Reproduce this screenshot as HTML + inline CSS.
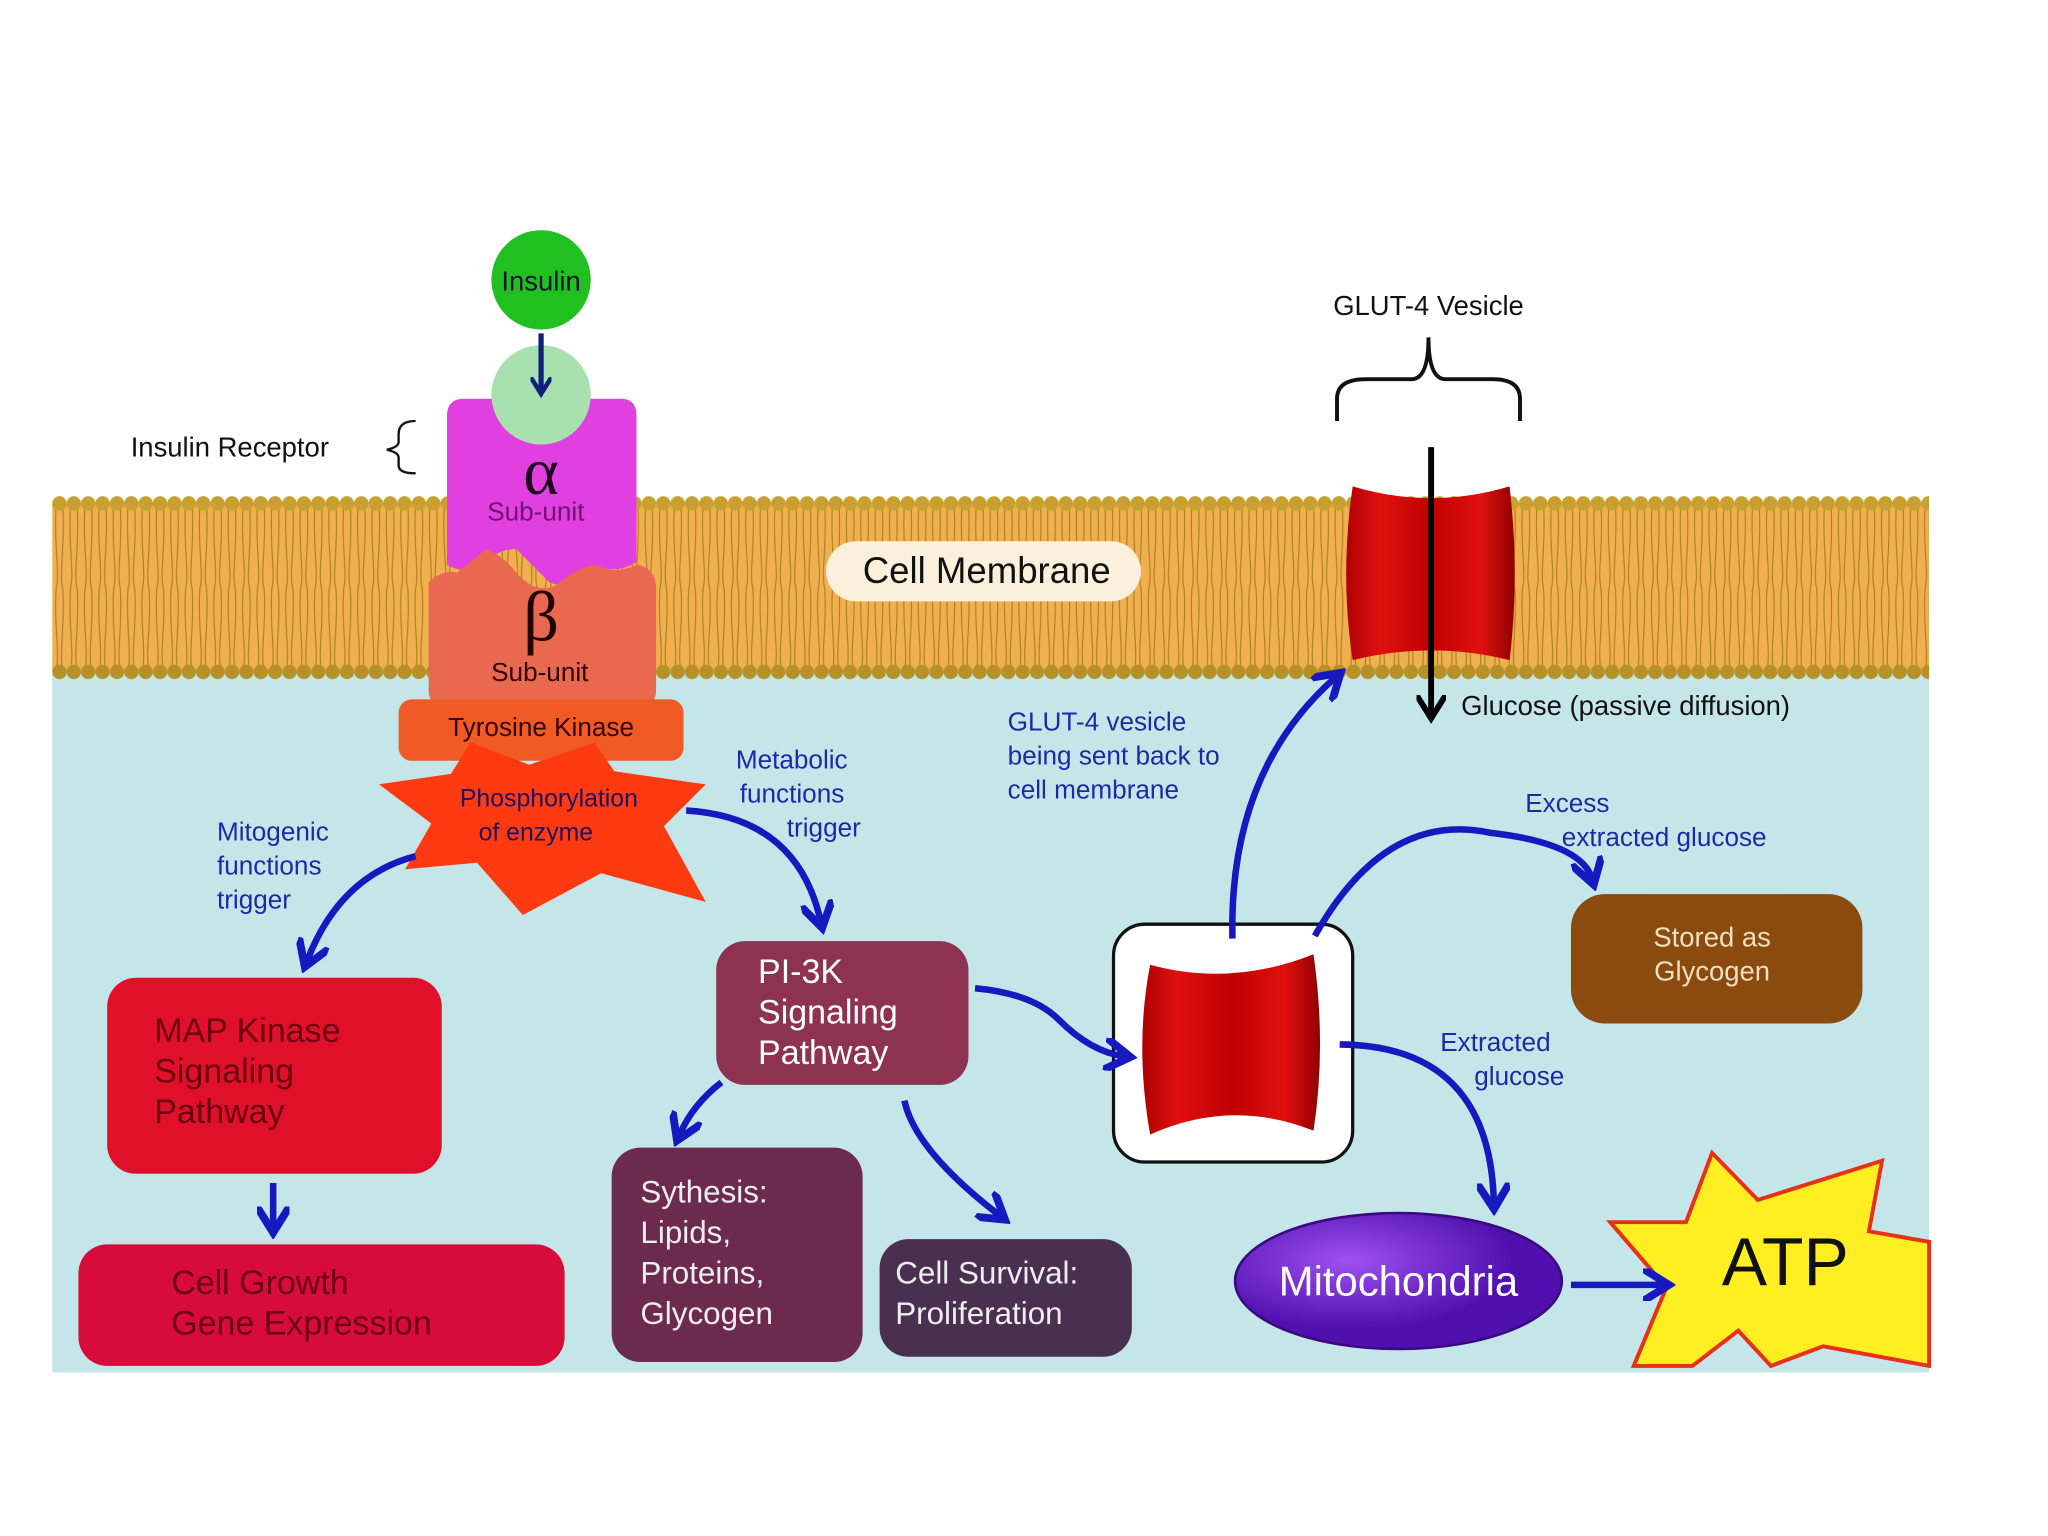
<!DOCTYPE html>
<html><head><meta charset="utf-8"><style>
html,body{margin:0;padding:0;background:#fff;}
svg{display:block;font-family:"Liberation Sans",sans-serif;}
</style></head><body>
<svg width="2048" height="1536" viewBox="0 0 1567 1175" xmlns="http://www.w3.org/2000/svg">
<defs>
<pattern id="mem" x="40" y="378" width="11" height="145" patternUnits="userSpaceOnUse">
<path d="M3,8 C1,40 6,60 3,72 M8,8 C10,40 5,60 8,72 M3,72 C1,100 6,120 3,135 M8,72 C10,100 5,120 8,135" stroke="#b08020" stroke-width="0.9" fill="none"/>
<circle cx="5.5" cy="7" r="5.5" fill="#c9a030"/>
<circle cx="5.5" cy="136" r="5.5" fill="#b89028"/>
</pattern>
<marker id="ab" viewBox="0 0 10 10" refX="6" refY="5" markerWidth="5" markerHeight="5" orient="auto"><path d="M0,0 L8,5 L0,10" fill="none" stroke="#1818c0" stroke-width="2.4"/></marker>
<marker id="an" viewBox="0 0 10 10" refX="6" refY="5" markerWidth="4" markerHeight="4" orient="auto"><path d="M0,0 L8,5 L0,10" fill="none" stroke="#10207a" stroke-width="2.2"/></marker>
<marker id="ak" viewBox="0 0 10 10" refX="6" refY="5" markerWidth="5" markerHeight="5" orient="auto"><path d="M0,0 L8,5 L0,10" fill="none" stroke="#000" stroke-width="2"/></marker>
<linearGradient id="red" x1="0" x2="1"><stop offset="0" stop-color="#b00000"/><stop offset="0.2" stop-color="#e01010"/><stop offset="0.5" stop-color="#c00000"/><stop offset="0.8" stop-color="#e01010"/><stop offset="1" stop-color="#900000"/></linearGradient>
<radialGradient id="mito" cx="0.35" cy="0.35"><stop offset="0" stop-color="#a050f0"/><stop offset="1" stop-color="#5010b0"/></radialGradient>
</defs>
<rect width="1567" height="1175" fill="#fff"/>
<rect x="40" y="505" width="1436" height="545" fill="#c5e6e9"/>
<rect x="40" y="385" width="1436" height="128" fill="#f0b050"/>
<rect x="40" y="378" width="1436" height="145" fill="url(#mem)"/>

<rect x="632" y="414" width="241" height="46" rx="23" fill="#fbf0dc"/>
<text x="755" y="446" font-size="28" text-anchor="middle" fill="#111">Cell Membrane</text>

<circle cx="414" cy="214" r="38" fill="#20c020"/>
<text x="414" y="222" font-size="21" text-anchor="middle" fill="#113">Insulin</text>
<path d="M342,318 Q342,305 355,305 L475,305 Q487,305 487,318 L487,430 Q470,440 455,432 Q440,455 420,445 Q405,430 395,420 Q380,420 370,432 Q355,440 342,432 Z" fill="#e040e0"/>
<circle cx="414" cy="302" r="38" fill="#a8e0b0"/>
<line x1="414" y1="255" x2="414" y2="298" stroke="#10207a" stroke-width="4" marker-end="url(#an)"/>
<text x="414" y="378" font-size="52" text-anchor="middle" fill="#220022" font-family="Liberation Serif,serif">α</text>
<text x="410" y="398" font-size="20" text-anchor="middle" fill="#701070">Sub-unit</text>
<path d="M328,445 Q340,435 350,438 Q362,428 372,420 Q385,425 395,438 Q410,455 425,448 Q440,435 455,432 Q470,440 488,432 Q502,435 502,450 L502,528 Q502,540 490,540 L340,540 Q328,540 328,528 Z" fill="#e86850"/>
<text x="414" y="490" font-size="54" text-anchor="middle" fill="#220000" font-family="Liberation Serif,serif">β</text>
<text x="413" y="521" font-size="20" text-anchor="middle" fill="#300">Sub-unit</text>
<rect x="305" y="535" width="218" height="47" rx="10" fill="#f05a25"/>
<text x="414" y="563" font-size="20" text-anchor="middle" fill="#300">Tyrosine Kinase</text>
<polygon points="290,600 345,592 360,568 405,585 455,568 470,590 540,600 508,632 540,690 460,668 400,700 365,660 310,665 330,630" fill="#ff3a10"/>
<text x="420" y="617" font-size="19" text-anchor="middle" fill="#201060">Phosphorylation</text>
<text x="410" y="643" font-size="19" text-anchor="middle" fill="#201060">of enzyme</text>

<text x="100" y="349" font-size="21" fill="#111">Insulin Receptor</text>
<path d="M318,322 Q305,322 305,332 L305,338 Q305,342 296,344 Q305,346 305,350 L305,356 Q305,362 318,362" fill="none" stroke="#111" stroke-width="1.8"/>

<text x="1093" y="241" font-size="21" text-anchor="middle" fill="#111">GLUT-4 Vesicle</text>
<path d="M1023,322 L1023,305 Q1023,290 1045,290 L1080,290 Q1093,290 1093,258 Q1093,290 1106,290 L1142,290 Q1163,290 1163,305 L1163,322" fill="none" stroke="#111" stroke-width="3"/>
<path d="M1035,372 Q1095,390 1155,372 Q1163,440 1155,505 Q1095,490 1035,505 Q1025,440 1035,372 Z" fill="url(#red)"/>
<line x1="1095" y1="342" x2="1095" y2="545" stroke="#000" stroke-width="4.5" marker-end="url(#ak)"/>
<text x="1118" y="547" font-size="21" fill="#111">Glucose (passive diffusion)</text>

<g font-size="20" fill="#1a2aa8">
<text x="563" y="588">Metabolic</text><text x="566" y="614">functions</text><text x="602" y="640">trigger</text>
<text x="166" y="643">Mitogenic</text><text x="166" y="669">functions</text><text x="166" y="695">trigger</text>
<text x="771" y="559">GLUT-4 vesicle</text><text x="771" y="585">being sent back to</text><text x="771" y="611">cell membrane</text>
<text x="1167" y="621">Excess</text><text x="1195" y="647">extracted glucose</text>
<text x="1102" y="804">Extracted</text><text x="1128" y="830">glucose</text>
</g>

<rect x="82" y="748" width="256" height="150" rx="22" fill="#e0102a"/>
<g font-size="26" fill="#6a0010"><text x="118" y="797">MAP Kinase</text><text x="118" y="828">Signaling</text><text x="118" y="859">Pathway</text></g>
<rect x="60" y="952" width="372" height="93" rx="22" fill="#d80c3a"/>
<g font-size="26" fill="#6a0010"><text x="131" y="990">Cell Growth</text><text x="131" y="1021">Gene Expression</text></g>
<rect x="548" y="720" width="193" height="110" rx="22" fill="#8e3252"/>
<g font-size="26" fill="#fff"><text x="580" y="752">PI-3K</text><text x="580" y="783">Signaling</text><text x="580" y="814">Pathway</text></g>
<rect x="468" y="878" width="192" height="164" rx="22" fill="#6b2a4e"/>
<g font-size="24" fill="#eee"><text x="490" y="920">Sythesis:</text><text x="490" y="951">Lipids,</text><text x="490" y="982">Proteins,</text><text x="490" y="1013">Glycogen</text></g>
<rect x="673" y="948" width="193" height="90" rx="22" fill="#4a3050"/>
<g font-size="24" fill="#eee"><text x="685" y="982">Cell Survival:</text><text x="685" y="1013">Proliferation</text></g>
<rect x="1202" y="684" width="223" height="99" rx="26" fill="#8b4a0e"/>
<g font-size="21" fill="#f0e0c0" text-anchor="middle"><text x="1310" y="724">Stored as</text><text x="1310" y="750">Glycogen</text></g>

<rect x="852" y="707" width="183" height="182" rx="24" fill="#fff" stroke="#111" stroke-width="2.5"/>
<path d="M880,738 Q942,755 1005,730 Q1015,800 1005,865 Q942,840 880,868 Q868,800 880,738 Z" fill="url(#red)"/>

<ellipse cx="1070" cy="980" rx="125" ry="52" fill="url(#mito)" stroke="#3a0a80" stroke-width="2"/>
<text x="1070" y="991" font-size="32" text-anchor="middle" fill="#fff">Mitochondria</text>

<polygon points="1232,935 1290,935 1310,882 1345,918 1440,888 1430,942 1476,950 1476,1045 1395,1030 1355,1045 1330,1018 1295,1045 1250,1045 1275,985" fill="#ffee22" stroke="#e83018" stroke-width="3"/>
<text x="1366" y="983" font-size="52" text-anchor="middle" fill="#111">ATP</text>

<g fill="none" stroke="#1818c0" stroke-width="5" marker-end="url(#ab)">
<path d="M318,655 Q260,670 235,735"/>
<path d="M525,620 Q610,625 628,705"/>
<path d="M209,905 L209,938"/>
<path d="M552,828 Q530,845 520,868"/>
<path d="M692,842 Q700,880 765,930"/>
<path d="M746,756 Q790,760 810,780 Q835,805 860,808"/>
<path d="M943,718 Q940,590 1022,518"/>
<path d="M1006,716 Q1060,620 1140,637 Q1210,645 1218,672"/>
<path d="M1025,799 Q1140,800 1143,920"/>
<path d="M1202,983 L1272,983"/>
</g>
</svg>
</body></html>
